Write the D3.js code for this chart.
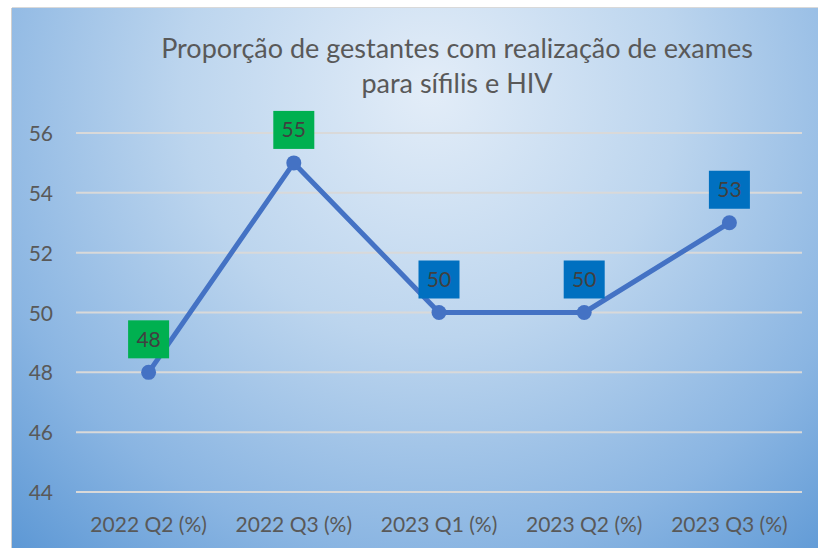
<!DOCTYPE html>
<html>
<head>
<meta charset="utf-8">
<script src="https://cdn.jsdelivr.net/npm/d3@7"></script>
<style>
  html, body { margin: 0; padding: 0; background: #fff; }
  svg { display: block; font-family: Lato, "Open Sans", sans-serif; }
</style>
</head>
<body>
<svg id="chart"></svg>
<script>
const width = 818;
const height = 548;

const categories = ["2022 Q2 (%)", "2022 Q3 (%)", "2023 Q1 (%)", "2023 Q2 (%)", "2023 Q3 (%)"];
const values = [48, 55, 50, 50, 53];
const labelColors = ["#00B050", "#00B050", "#0070C0", "#0070C0", "#0070C0"];
const yTicks = [44, 46, 48, 50, 52, 54, 56];
const titleLines = ["Proporção de gestantes com realização de exames", "para sífilis e HIV"];

const svg = d3.select("#chart")
    .attr("width", width)
    .attr("height", height);

// background panel
const defs = svg.append("defs");
const grad = defs.append("radialGradient")
    .attr("id", "bg")
    .attr("gradientUnits", "userSpaceOnUse")
    .attr("cx", 430).attr("cy", 90)
    .attr("r", 620);
grad.append("stop").attr("offset", "0%").attr("stop-color", "#e3edf8");
grad.append("stop").attr("offset", "40%").attr("stop-color", "#bcd5ee");
grad.append("stop").attr("offset", "75%").attr("stop-color", "#8ab5e2");
grad.append("stop").attr("offset", "100%").attr("stop-color", "#5d98d5");

svg.append("line")
    .attr("x1", 12).attr("x2", width).attr("y1", 7.5).attr("y2", 7.5)
    .attr("stroke", "#d9d9d9");
svg.append("line")
    .attr("x1", 11.5).attr("x2", 11.5).attr("y1", 8).attr("y2", height)
    .attr("stroke", "#d0d0d0");
svg.append("rect")
    .attr("x", 12).attr("y", 8)
    .attr("width", width - 12).attr("height", height - 8)
    .attr("fill", "url(#bg)");

const margin = { left: 76, right: 16, top: 133, bottom: 56 };

const x = d3.scaleBand()
    .domain(categories)
    .range([margin.left, width - margin.right]);

const y = d3.scaleLinear()
    .domain([44, 56])
    .range([height - margin.bottom, margin.top]);

// gridlines
svg.append("g")
    .selectAll("line")
    .data(yTicks)
    .enter().append("line")
    .attr("x1", margin.left)
    .attr("x2", width - margin.right)
    .attr("y1", d => y(d))
    .attr("y2", d => y(d))
    .attr("stroke", "#d9d9d9")
    .attr("stroke-width", 2);

// y axis
const yAxis = svg.append("g")
    .attr("transform", `translate(${margin.left - 23},0)`)
    .call(d3.axisLeft(y).tickValues(yTicks).tickSize(0).tickPadding(0));
yAxis.select(".domain").remove();
yAxis.selectAll("text")
    .attr("font-size", 21)
    .attr("font-family", "Lato, 'Open Sans', sans-serif")
    .attr("fill", "#595959")
    .attr("dy", "0.36em");

// x axis
const xAxis = svg.append("g")
    .attr("transform", `translate(0,${height - 16})`)
    .call(d3.axisBottom(x).tickSize(0).tickPadding(0));
xAxis.select(".domain").remove();
xAxis.selectAll("text")
    .attr("font-size", 21)
    .attr("font-family", "Lato, 'Open Sans', sans-serif")
    .attr("fill", "#595959")
    .attr("y", 0)
    .attr("dy", 0);

const cx = d => x(d) + x.bandwidth() / 2;

// line
const line = d3.line()
    .x((d, i) => cx(categories[i]))
    .y(d => y(d));

svg.append("path")
    .datum(values)
    .attr("d", line)
    .attr("fill", "none")
    .attr("stroke", "#4472C4")
    .attr("stroke-width", 5)
    .attr("stroke-linejoin", "round");

svg.append("g")
    .selectAll("circle")
    .data(values)
    .enter().append("circle")
    .attr("cx", (d, i) => cx(categories[i]))
    .attr("cy", d => y(d))
    .attr("r", 7.5)
    .attr("fill", "#4472C4");

// data labels
const labels = svg.append("g")
    .selectAll("g")
    .data(values)
    .enter().append("g")
    .attr("transform", (d, i) => `translate(${cx(categories[i])},${y(d) - 33})`);

labels.append("rect")
    .attr("x", -20.5).attr("y", -19)
    .attr("width", 41).attr("height", 38)
    .attr("fill", (d, i) => labelColors[i]);

labels.append("text")
    .attr("text-anchor", "middle")
    .attr("y", 7.5)
    .attr("font-size", 21)
    .attr("fill", "#404040")
    .text(d => d);

// title
svg.append("g")
    .selectAll("text")
    .data(titleLines)
    .enter().append("text")
    .attr("x", 457)
    .attr("y", (d, i) => 58 + i * 35)
    .attr("text-anchor", "middle")
    .attr("font-size", 27)
    .attr("fill", "#595959")
    .text(d => d);
</script>
</body>
</html>
